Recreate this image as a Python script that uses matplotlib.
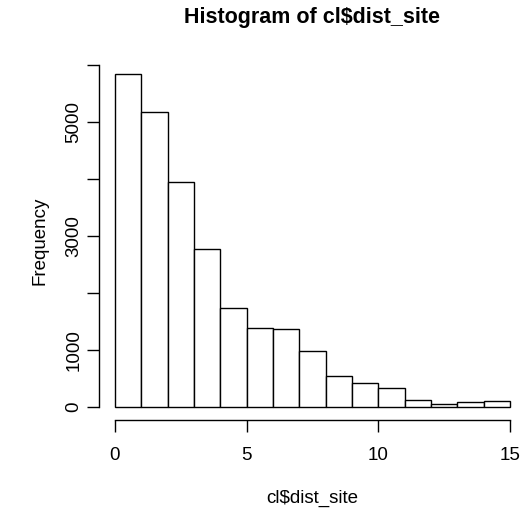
import numpy as np
import matplotlib
matplotlib.use("Agg")
import matplotlib.pyplot as plt

# histogram of cl$dist_site, unit-wide bins from 0 to 15
bin_edges = list(range(0, 16))
counts = [5830, 5165, 3947, 2772, 1731, 1380, 1357, 982, 544, 415, 322, 123, 53, 88, 105]

x_ticks = [0, 5, 10, 15]
y_ticks = [0, 1000, 2000, 3000, 4000, 5000, 6000]
# R drops the labels that would overlap
y_tick_labels = ["0", "1000", "", "3000", "", "5000", ""]

plt.rcParams["font.family"] = ["Liberation Sans", "DejaVu Sans"]

W, H = 522, 515
fig = plt.figure(figsize=(W / 100, H / 100), dpi=100)


def px(x0, y0, x1, y1):
    """Pixel box -> figure fraction [left, bottom, width, height]."""
    return [x0 / W, 1 - y1 / H, (x1 - x0) / W, (y1 - y0) / H]


ax = fig.add_axes(px(99.2, 61.1, 525.8, 420.0))

lefts = np.array(bin_edges[:-1])
ax.bar(lefts, counts, width=1, align="edge", facecolor="white",
       edgecolor="black", linewidth=1.0)

# R style: axes extend 4% past the data range
xr = bin_edges[-1] - bin_edges[0]
ax.set_xlim(bin_edges[0] - 0.04 * xr, bin_edges[-1] + 0.04 * xr)
ymax = max(counts)
ax.set_ylim(-0.04 * ymax, ymax * 1.04)

for side in ["top", "right"]:
    ax.spines[side].set_visible(False)
ax.spines["bottom"].set_bounds(x_ticks[0], x_ticks[-1])
ax.spines["left"].set_bounds(y_ticks[0], y_ticks[-1])
for side in ["bottom", "left"]:
    ax.spines[side].set_linewidth(1.0)

ax.set_xticks(x_ticks)
ax.set_xticklabels([str(t) for t in x_ticks])
ax.set_yticks(y_ticks)
ax.set_yticklabels(y_tick_labels, rotation=90, va="center")
ax.tick_params(axis="both", direction="out", length=8.4, width=1.0,
               labelsize=13.5)
ax.tick_params(axis="x", pad=11)
ax.tick_params(axis="y", pad=3.5)

ax.set_title("Histogram of cl$dist_site", fontsize=15.5, fontweight="bold",
             pad=27.5)

fig.text(312.5 / W, 1 - 498 / H, "cl$dist_site", fontsize=13.5,
         ha="center", va="center")
fig.text(40 / W, 1 - 240.5 / H, "Frequency", fontsize=13.5,
         ha="center", va="center", rotation=90)

fig.savefig("out.png", dpi=100)
